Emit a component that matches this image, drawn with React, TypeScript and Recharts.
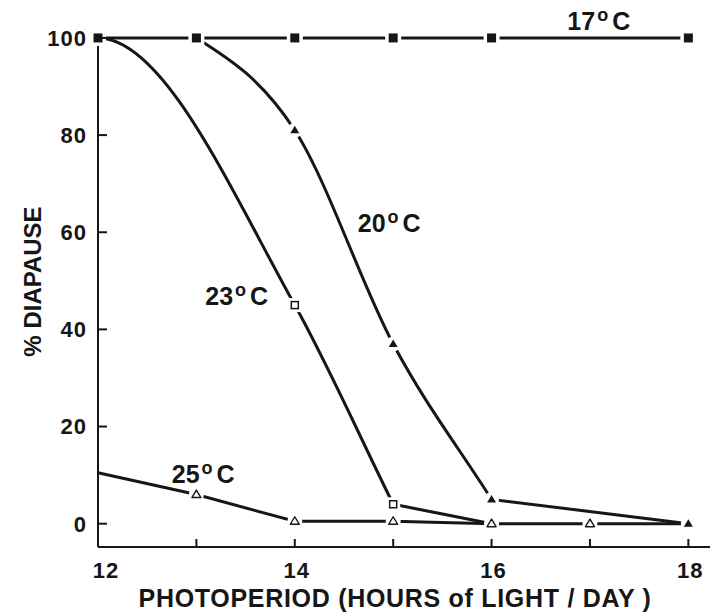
import { Label, Line, LineChart, ReferenceDot, XAxis, YAxis } from 'recharts';

const hours = [12, 13, 14, 15, 16, 17, 18];
const diapause17 = [100, 100, 100, 100, 100, null, 100];
const diapause20 = [null, 100, 81, 37, 5, null, 0];
const diapause23 = [100, null, 45, 4, 0, null, null];
const diapause25 = [10.5, 6, 0.5, 0.5, 0, 0, 0];

const xTicks = [12, 13, 14, 15, 16, 17, 18];
const xTickLabels = ['12', '', '14', '', '16', '', '18'];
const yTicks = [0, 20, 40, 60, 80, 100];

// where the temperature labels sit, in data units (left edge, baseline)
const labelTemps = ['17', '20', '23', '25'];
const labelHours = [16.77, 14.64, 13.09, 12.75];
const labelValues = [101.7, 60.1, 45.1, 8.4];

const data = hours.map((h, i) => ({
  hour: h,
  t17: diapause17[i],
  t20: diapause20[i],
  t23: diapause23[i],
  t25: diapause25[i]
}));

const INK = '#161616';
const FONT = '"Liberation Sans", Arial, Helvetica, sans-serif';

// hand-drawn look: smooth (monotone) bends, but a corner where the curve
// suddenly flattens out near zero
function handDrawnCurve(flatStart: boolean) {
  return (context: any) => {
    let xs: number[] = [];
    let ys: number[] = [];
    return {
      areaStart() {},
      areaEnd() {},
      lineStart() {
        xs = [];
        ys = [];
      },
      point(x: number, y: number) {
        xs.push(+x);
        ys.push(+y);
      },
      lineEnd() {
        const n = xs.length;
        if (!n) return;
        context.moveTo(xs[0], ys[0]);
        if (n === 1) return;
        const s: number[] = [];
        for (let i = 0; i < n - 1; i++) s.push((ys[i + 1] - ys[i]) / (xs[i + 1] - xs[i]));
        const mIn: number[] = new Array(n).fill(0);
        const mOut: number[] = new Array(n).fill(0);
        for (let i = 1; i < n - 1; i++) {
          if (s[i - 1] * s[i] <= 0) continue;
          if (Math.abs(s[i]) < 0.25 * Math.abs(s[i - 1])) {
            mIn[i] = s[i - 1];
            mOut[i] = s[i];
            continue;
          }
          const h0 = xs[i] - xs[i - 1];
          const h1 = xs[i + 1] - xs[i];
          const p = (s[i - 1] * h1 + s[i] * h0) / (h0 + h1);
          const m = (Math.sign(s[i - 1]) + Math.sign(s[i])) *
            Math.min(Math.abs(s[i - 1]), Math.abs(s[i]), 0.5 * Math.abs(p));
          mIn[i] = m;
          mOut[i] = m;
        }
        mOut[0] = flatStart ? 0 : n > 2 ? (3 * s[0] - mIn[1]) / 2 : s[0];
        mIn[n - 1] = n > 2 ? (3 * s[n - 2] - mOut[n - 2]) / 2 : s[n - 2];
        if (n > 2 && Math.abs(mOut[n - 2] - s[n - 2]) < 1e-9) mIn[n - 1] = s[n - 2];
        for (let i = 0; i < n - 1; i++) {
          const dx = (xs[i + 1] - xs[i]) / 3;
          context.bezierCurveTo(
            xs[i] + dx, ys[i] + dx * mOut[i],
            xs[i + 1] - dx, ys[i + 1] - dx * mIn[i + 1],
            xs[i + 1], ys[i + 1]
          );
        }
      }
    };
  };
}

type MarkerKind = 'filledSquare' | 'openSquare' | 'filledTriangle' | 'openTriangle';

function makeDot(kind: MarkerKind, skipHours: number[] = []) {
  return (props: any) => {
    const { cx, cy, index, payload } = props;
    const key = `${kind}-${index}`;
    if (cx == null || cy == null || payload == null || skipHours.includes(payload.hour)) {
      return <g key={key} />;
    }
    if (kind === 'filledSquare') {
      return (
        <g key={key}>
          <rect x={cx - 8} y={cy - 8} width={16} height={16} fill="#fff" />
          <rect x={cx - 4.5} y={cy - 4.5} width={9} height={9} fill={INK} />
        </g>
      );
    }
    if (kind === 'openSquare') {
      return (
        <g key={key}>
          <rect x={cx - 7} y={cy - 7} width={14} height={14} fill="#fff" />
          <rect x={cx - 3.5} y={cy - 3.5} width={7} height={7} fill="#fff" stroke={INK} strokeWidth={1.5} />
        </g>
      );
    }
    const tri = `${cx},${cy - 4.5} ${cx + 4.5},${cy + 3} ${cx - 4.5},${cy + 3}`;
    if (kind === 'filledTriangle') {
      return (
        <g key={key}>
          <circle cx={cx} cy={cy} r={7.5} fill="#fff" />
          <polygon points={tri} fill={INK} />
        </g>
      );
    }
    return (
      <g key={key}>
        <circle cx={cx} cy={cy} r={7.5} fill="#fff" />
        <polygon points={tri} fill="#fff" stroke={INK} strokeWidth={1.4} strokeLinejoin="round" />
      </g>
    );
  };
}

function YTick(props: any) {
  const { x, y, payload } = props;
  return (
    <g>
      <line x1={x} y1={y} x2={x + 9} y2={y} stroke={INK} strokeWidth={2} />
      <text
        x={x - 11}
        y={y}
        dy="0.36em"
        textAnchor="end"
        fill={INK}
        fontFamily={FONT}
        fontWeight={700}
        fontSize={22}
        letterSpacing={1}
      >
        {payload.value}
      </text>
    </g>
  );
}

function XTick(props: any) {
  const { x, y, payload, index } = props;
  const text = xTickLabels[index] ?? '';
  const shift = payload.value === 12 ? 8 : 2;
  return (
    <g>
      <line x1={x} y1={y} x2={x} y2={y - 8} stroke={INK} strokeWidth={2} />
      {text && (
        <text
          x={x + shift}
          y={y + 31}
          textAnchor="middle"
          fill={INK}
          fontFamily={FONT}
          fontWeight={700}
          fontSize={22}
          letterSpacing={1}
        >
          {text}
        </text>
      )}
    </g>
  );
}

function TempLabel({ cx, cy, temp }: any) {
  if (cx == null || cy == null) return <g />;
  return (
    <text x={cx} y={cy} fill={INK} fontFamily={FONT} fontWeight={700} fontSize={25}>
      {temp}
      <tspan fontSize={18} dx={2} dy={-9}>o</tspan>
      <tspan dx={4} dy={9}>C</tspan>
    </text>
  );
}

export default function App() {
  return (
    <div style={{ position: 'absolute', left: 0, top: 0, width: 726, height: 613, background: '#fff' }}>
      <LineChart width={726} height={613} data={data} margin={{ top: 36, right: 16, bottom: 6, left: 38 }}>
        <XAxis
          dataKey="hour"
          type="number"
          domain={[12, 18.22]}
          ticks={xTicks}
          interval={0}
          height={60}
          tickSize={0}
          tickMargin={0}
          tickLine={false}
          axisLine={{ stroke: INK, strokeWidth: 2 }}
          tick={<XTick />}
        >
          <Label
            content={(p: any) => {
              const vb = p.viewBox || { x: 98, y: 547 };
              return (
                <text
                  x={vb.x + 297}
                  y={vb.y + 60}
                  textAnchor="middle"
                  fill={INK}
                  fontFamily={FONT}
                  fontWeight={700}
                  fontSize={25}
                  letterSpacing={0.7}
                >
                  PHOTOPERIOD (HOURS of LIGHT / DAY )
                </text>
              );
            }}
          />
        </XAxis>
        <YAxis
          type="number"
          domain={[-4.8, 100.4]}
          ticks={yTicks}
          interval={0}
          width={60}
          tickSize={0}
          tickMargin={0}
          tickLine={false}
          axisLine={{ stroke: INK, strokeWidth: 2 }}
          tick={<YTick />}
        >
          <Label
            content={(p: any) => {
              const vb = p.viewBox || { x: 38, y: 36, height: 511 };
              const cx = vb.x - 6;
              const cy = vb.y + vb.height / 2 - 10;
              return (
                <text
                  x={cx}
                  y={cy}
                  transform={`rotate(-90, ${cx}, ${cy})`}
                  textAnchor="middle"
                  dy="0.36em"
                  fill={INK}
                  fontFamily={FONT}
                  fontWeight={700}
                  fontSize={24}
                >
                  % DIAPAUSE
                </text>
              );
            }}
          />
        </YAxis>

        <Line
          dataKey="t23"
          type={handDrawnCurve(true) as any}
          stroke={INK}
          strokeWidth={3}
          connectNulls
          dot={makeDot('openSquare')}
          activeDot={false}
          isAnimationActive={false}
        />
        <Line
          dataKey="t25"
          type="linear"
          stroke={INK}
          strokeWidth={3}
          connectNulls
          dot={makeDot('openTriangle', [12])}
          activeDot={false}
          isAnimationActive={false}
        />
        <Line
          dataKey="t20"
          type={handDrawnCurve(false) as any}
          stroke={INK}
          strokeWidth={3}
          connectNulls
          dot={makeDot('filledTriangle')}
          activeDot={false}
          isAnimationActive={false}
        />
        <Line
          dataKey="t17"
          type="linear"
          stroke={INK}
          strokeWidth={3}
          connectNulls
          dot={makeDot('filledSquare')}
          activeDot={false}
          isAnimationActive={false}
        />

        {labelTemps.map((t, i) => (
          <ReferenceDot
            key={t}
            x={labelHours[i]}
            y={labelValues[i]}
            r={0}
            ifOverflow="visible"
            shape={(p: any) => <TempLabel cx={p.cx} cy={p.cy} temp={t} />}
          />
        ))}
      </LineChart>
    </div>
  );
}
